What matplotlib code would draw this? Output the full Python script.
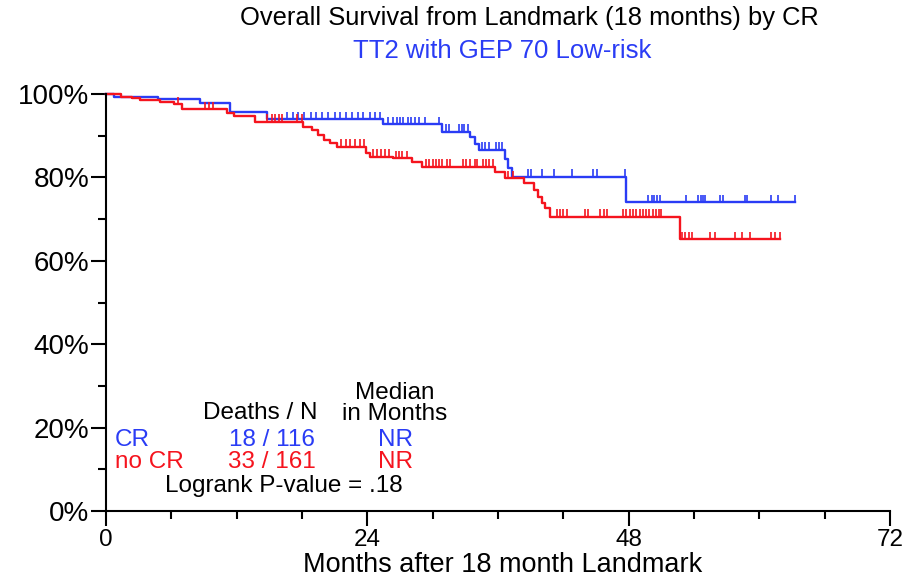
import numpy as np
import matplotlib
matplotlib.use("Agg")
import matplotlib.pyplot as plt
from matplotlib.ticker import MultipleLocator, FuncFormatter

plt.rcParams["font.family"] = ["Liberation Sans", "DejaVu Sans"]

BLUE = "#2a3cf5"
RED = "#f5141e"

# step curves (months, % surviving)
cr_times = [0, 0.7, 4.8, 8.6, 11.4, 14.8, 25.4, 30.9, 33.4, 33.9, 34.3, 36.6, 36.9, 37.3, 47.8, 63.3]
cr_surv = [100, 99.2, 98.7, 97.9, 95.7, 94.0, 92.8, 91.0, 89.6, 88.0, 86.6, 84.5, 82.3, 80.2, 74.0, 74.0]

nocr_times = [0, 1.4, 2.4, 3.1, 5.0, 6.2, 7.0, 11.1, 11.8, 13.7, 18.1, 18.9, 19.5, 20.0,
              20.6, 21.2, 23.9, 24.2, 26.4, 28.1, 29.0, 35.7, 36.6, 38.4, 39.3, 39.7,
              40.0, 40.3, 40.8, 52.7, 61.9]
nocr_surv = [100, 99.4, 99.0, 98.6, 98.2, 97.5, 96.4, 95.4, 94.8, 93.4, 92.2, 91.4, 90.2, 89.0,
             88.2, 87.4, 85.8, 85.0, 84.6, 83.8, 82.6, 81.4, 79.8, 78.6, 77.0, 75.3,
             73.8, 72.6, 70.6, 65.2, 65.2]

# censored observations (months)
cr_censor = [16.6, 17.2, 17.6, 18.2, 18.8, 19.3, 19.8, 20.4, 21.0, 21.5, 22.0, 22.6, 23.1,
             23.6, 24.2, 24.7, 25.2, 25.9, 26.4, 26.7, 27.0, 27.3, 27.7, 28.0, 28.4, 28.7,
             29.3, 30.6, 31.2, 31.5, 32.4, 32.7, 32.9, 33.2, 34.5, 34.8, 35.2, 35.8, 36.1,
             36.4, 38.8, 39.0, 40.0, 41.1, 42.8, 44.7, 45.1, 47.7, 49.8, 50.1, 50.3, 50.6,
             50.9, 53.3, 54.4, 54.6, 54.8, 55.0, 56.4, 56.7, 58.7, 58.9, 61.1, 61.7, 63.3]
nocr_censor = [6.6, 9.1, 9.5, 9.8, 14.8, 15.2, 15.5, 15.9, 16.2, 17.5, 18.0, 21.6, 22.0,
               22.4, 22.9, 23.3, 23.7, 24.5, 24.9, 25.3, 25.6, 26.0, 26.6, 26.9, 27.2,
               27.6, 29.4, 29.7, 30.0, 30.3, 30.6, 30.9, 31.3, 31.6, 32.8, 33.1, 33.4,
               33.9, 34.1, 34.6, 34.9, 35.2, 35.5, 36.9, 37.4, 41.4, 41.7, 42.0, 42.3,
               44.0, 44.3, 45.4, 45.7, 46.0, 47.5, 47.8, 48.1, 48.4, 48.7, 49.0, 49.3,
               49.6, 49.9, 50.2, 50.5, 50.8, 51.0, 52.9, 53.2, 53.5, 53.8, 55.5, 55.9,
               57.8, 58.4, 59.1, 61.1, 61.4, 61.9]

groups = ["CR", "no CR"]
deaths_n = ["18 / 116", "33 / 161"]
medians = ["NR", "NR"]
pvalue = ".18"


def surv_at(times, surv, t):
    idx = np.searchsorted(times, t, side="right") - 1
    return np.asarray(surv)[idx]


fig = plt.figure(figsize=(9.09, 5.79), dpi=100)
ax = fig.add_axes([106 / 909, 1 - 511 / 579, 784 / 909, 417 / 579])

series = [
    (cr_times, cr_surv, cr_censor, BLUE),
    (nocr_times, nocr_surv, nocr_censor, RED),
]
for times, surv, cens, col in series:
    ax.step(times, surv, where="post", color=col, lw=1.7, clip_on=False)
    cy = surv_at(times, surv, cens)
    ax.vlines(cens, cy, cy + 1.8, color=col, lw=1.2)

ax.set_xlim(0, 72)
ax.set_ylim(0, 100)
ax.xaxis.set_major_locator(MultipleLocator(24))
ax.xaxis.set_minor_locator(MultipleLocator(6))
ax.yaxis.set_major_locator(MultipleLocator(20))
ax.yaxis.set_minor_locator(MultipleLocator(10))
ax.yaxis.set_major_formatter(FuncFormatter(lambda v, p: f"{v:.0f}%"))

for s in ["top", "right"]:
    ax.spines[s].set_visible(False)
for s in ["left", "bottom"]:
    ax.spines[s].set_linewidth(1.5)

ax.tick_params(which="major", length=11, width=1.5)
ax.tick_params(which="minor", length=6, width=1.5)
ax.tick_params(axis="y", which="major", pad=1, labelsize=20)
ax.tick_params(axis="x", which="major", pad=2, labelsize=17.5)

fig.text(503 / 909, 1 - 572 / 579, "Months after 18 month Landmark",
         ha="center", va="baseline", fontsize=19.5)

fig.text(529 / 909, 1 - 18 / 579, "Overall Survival from Landmark (18 months) by CR",
         ha="center", va="center", fontsize=18.4)
fig.text(502 / 909, 1 - 51 / 579, "TT2 with GEP 70 Low-risk",
         ha="center", va="center", fontsize=18.5, color=BLUE)

fs = 17.5
ax.text(26.5, 25.7, "Median\nin Months", ha="center", va="center", fontsize=fs,
        linespacing=0.95)
ax.text(14.2, 23.4, "Deaths / N", ha="center", va="center", fontsize=fs)
rows_y = [17.0, 11.7]
for g, dn, md, col, yy in zip(groups, deaths_n, medians, [BLUE, RED], rows_y):
    ax.text(0.8, yy, g, ha="left", va="center", fontsize=fs, color=col)
    ax.text(15.2, yy, dn, ha="center", va="center", fontsize=fs, color=col)
    ax.text(26.6, yy, md, ha="center", va="center", fontsize=fs, color=col)
ax.text(16.3, 5.9, f"Logrank P-value = {pvalue}", ha="center", va="center", fontsize=fs)

fig.savefig("out.png", dpi=100)
